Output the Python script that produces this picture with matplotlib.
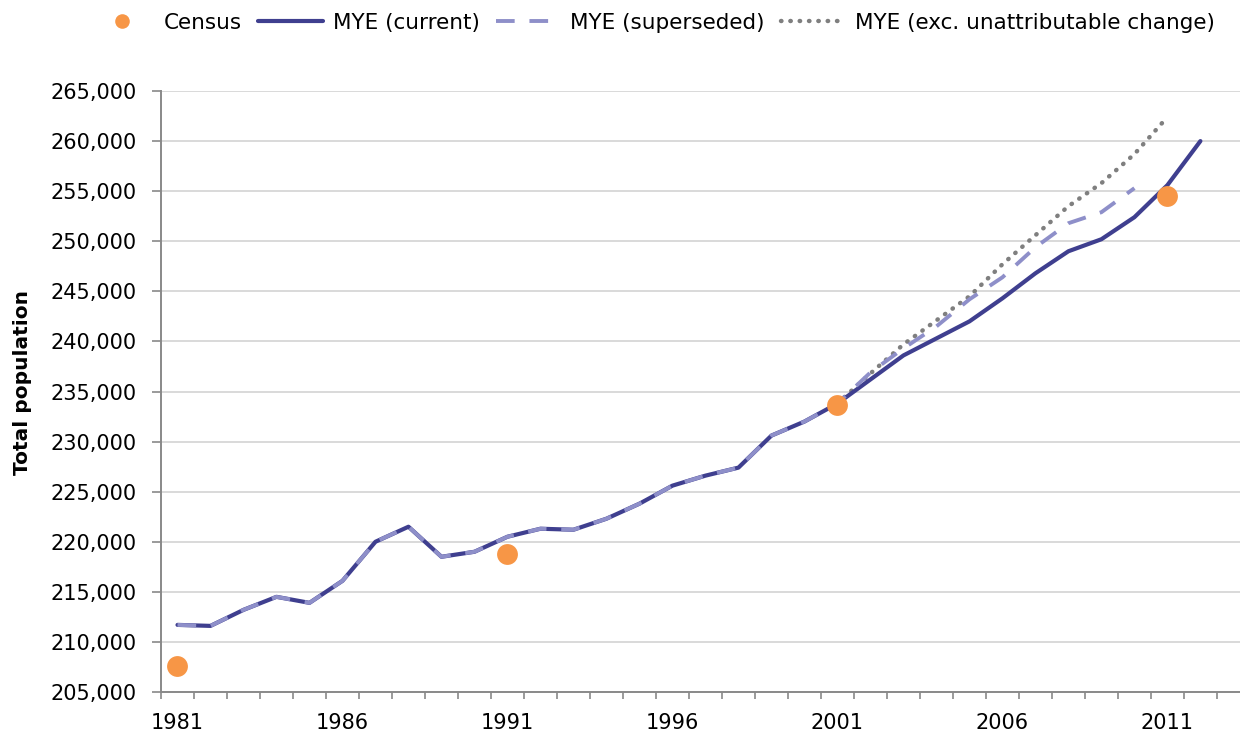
import matplotlib
matplotlib.use("Agg")
import matplotlib.pyplot as plt
from matplotlib.ticker import FuncFormatter, MultipleLocator, FixedLocator

plt.rcParams['font.family'] = ['DejaVu Sans']

# data
years = list(range(1981, 2013))
mye_current = [211700, 211600, 213200, 214500, 213900, 216100, 220000, 221500,
               218500, 219000, 220500, 221300, 221200, 222300, 223800, 225600,
               226600, 227400, 230600, 232000, 233800, 236200, 238600, 240300,
               242000, 244300, 246800, 249000, 250200, 252400, 255600, 260000]

sup_years = list(range(1981, 2011))
mye_superseded = mye_current[:21] + [236900, 239300, 241500, 244200, 246400,
                                     249400, 251800, 252900, 255300]

exc_years = list(range(2001, 2012))
mye_exc = [233800, 236800, 239700, 242100, 244500, 247700, 250600, 253500,
           255800, 258700, 262400]

census_years = [1981, 1991, 2001, 2011]
census = [207600, 218800, 233700, 254500]

navy = '#3f3f8f'
lilac = '#8e8fc9'
grey = '#7f7f7f'
orange = '#f79646'
axis_grey = '#898989'

fig = plt.figure(figsize=(12.4, 7.39), dpi=100)
ax = fig.add_axes([161/1240, 47/739, 1079/1240, 601/739])

ax.plot(years, mye_current, color=navy, lw=3.0, solid_capstyle='round',
        label='MYE (current)', zorder=3)
ax.plot(sup_years, mye_superseded, color=lilac, lw=2.8, linestyle=(0, (4.8, 3.8)),
        label='MYE (superseded)', zorder=4)
ax.plot(exc_years, mye_exc, color=grey, lw=3.2, linestyle=(0, (0.1, 2.0)),
        dash_capstyle='round', label='MYE (exc. unattributable change)', zorder=2)
ax.plot(census_years, census, linestyle='none', marker='o', markersize=15,
        color=orange, markeredgewidth=0, label='Census', zorder=5)

ax.set_ylim(205000, 265000)
ax.set_xlim(1980.5, 2013.2)
ax.yaxis.set_major_locator(MultipleLocator(5000))
ax.yaxis.set_major_formatter(FuncFormatter(lambda v, p: f'{int(v):,}'))
ax.grid(axis='y', color='#d9d9d9', lw=1.4, zorder=0)
ax.set_axisbelow(True)

ax.xaxis.set_major_locator(FixedLocator([1981, 1986, 1991, 1996, 2001, 2006, 2011]))
ax.xaxis.set_major_formatter(FuncFormatter(lambda v, p: str(int(round(v)))))
ax.xaxis.set_minor_locator(FixedLocator([y - 0.5 for y in range(1981, 2015)]))
ax.tick_params(axis='x', which='major', length=0, labelsize=15, pad=15)
ax.tick_params(axis='x', which='minor', length=5, width=1.2, color=axis_grey)
ax.tick_params(axis='y', which='major', length=6.5, width=1.2, color=axis_grey,
               labelsize=15, pad=11)

for s in ['top', 'right']:
    ax.spines[s].set_visible(False)
for s in ['left', 'bottom']:
    ax.spines[s].set_color(axis_grey)
    ax.spines[s].set_linewidth(1.4)

ax.set_ylabel('Total population', fontsize=14.5, fontweight='bold')
ax.yaxis.set_label_coords(-0.12, 0.515)

handles, labels = ax.get_legend_handles_labels()
order = [3, 0, 1, 2]
fig.legend([handles[i] for i in order], [labels[i] for i in order],
           loc='center', bbox_to_anchor=(0.526, 0.969), ncol=4, frameon=False,
           fontsize=15.5, handlelength=3.0, handletextpad=0.45, columnspacing=0.75,
           markerscale=0.7)

fig.savefig('out.png', dpi=100)
